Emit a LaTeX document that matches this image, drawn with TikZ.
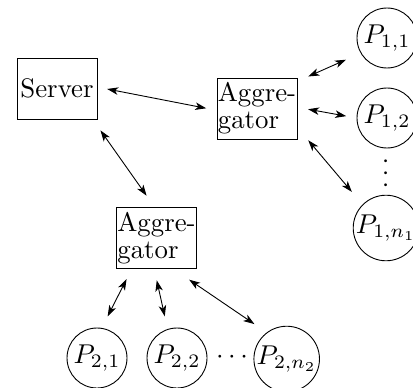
\documentclass[tikz,border=0pt]{standalone}
\usepackage{graphicx}
\usetikzlibrary{arrows.meta}
\newcommand{\bigtxt}[1]{\scalebox{2.68}{#1}}
\newcommand{\bigmth}[1]{\scalebox{2.72}{#1}}
\begin{document}
\begin{tikzpicture}[x=1pt,y=-1pt,
  box/.style={draw, line width=0.9pt, minimum width=80pt, minimum height=61pt, inner sep=0.5pt},
  peer/.style={draw, circle, line width=0.9pt, minimum size=60pt, inner sep=0pt},
  link/.style={line width=0.9pt, {Stealth[length=11pt,width=7.5pt,inset=3pt]}-{Stealth[length=11pt,width=7.5pt,inset=3pt]}}]
\useasboundingbox (0,0) rectangle (413,388);
\node[box] (srv) at (57,88.5) {\bigtxt{Server}};
\node[box] (ag1) at (257,108.5) {\bigtxt{\vbox{\baselineskip=10.1pt\hbox{Aggre-}\hbox{gator}}}};
\node[box] (ag2) at (156.5,238.3) {\bigtxt{\vbox{\baselineskip=10.1pt\hbox{Aggre-}\hbox{gator}}}};
\node[peer] (p11) at (387,38) {\bigmth{$P_{1,1}$}};
\node[peer] (p12) at (387,118) {\bigmth{$P_{1,2}$}};
\node[peer] (p1n) at (386,228) {\bigmth{$P_{1,n_1}$}};
\node[peer] (p21) at (97,358) {\bigmth{$P_{2,1}$}};
\node[peer] (p22) at (177,358) {\bigmth{$P_{2,2}$}};
\node[peer] (p2n) at (286.7,359) {\bigmth{$P_{2,n_2}$}};
\node[inner sep=0pt] (vd) at (385,173) {\bigmth{\rotatebox{-90}{$\cdots$}}};
\node[inner sep=0pt, anchor=base] (hd) at (232,363) {\bigmth{$\cdots$}};
\draw[link, shorten <=9.9pt, shorten >=10.5pt] ([yshift=1.4pt]srv.east) -- ([yshift=-1.8pt]ag1.west);
\draw[link, shorten <=13.4pt, shorten >=14.2pt] ([xshift=-4.7pt]srv.south east) -- ([xshift=-1.7pt]ag2.north);
\draw[link, shorten <=11.8pt, shorten >=16pt] ([yshift=-3.7pt]ag1.north east) -- (p11.210);
\draw[link, shorten <=10.8pt, shorten >=10.5pt] ([yshift=1.2pt]ag1.east) -- (p12.west);
\draw[link, shorten <=16.7pt, shorten >=16.5pt] ([yshift=-19pt]ag1.east) -- (p1n.135);
\draw[link, shorten <=11.1pt, shorten >=13pt] ([xshift=-24.9pt]ag2.south) -- (p21.81);
\draw[link, shorten <=11.3pt, shorten >=13pt] ([xshift=-2.2pt]ag2.south) -- (p22.108);
\draw[link, shorten <=18.6pt, shorten >=14.9pt] ([xshift=17.3pt]ag2.south) -- (p2n.127);
\end{tikzpicture}
\end{document}
